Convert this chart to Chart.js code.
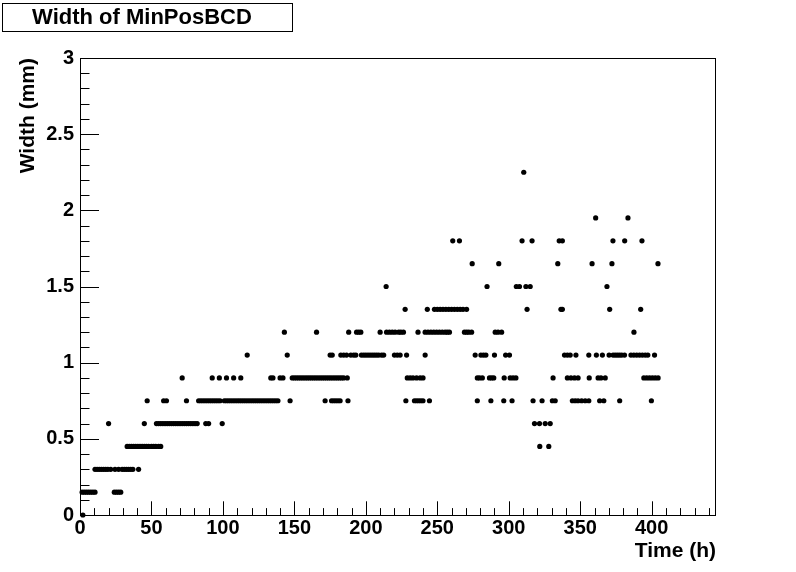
<!DOCTYPE html>
<html>
<head>
<meta charset="utf-8">
<script src="https://cdn.jsdelivr.net/npm/chart.js@4.4.1/dist/chart.umd.min.js"></script>
<style>
  html, body { margin: 0; padding: 0; background: #fff; }
  #wrap { width: 796px; height: 572px; }
</style>
</head>
<body>
<div id="wrap"><canvas id="chart" width="796" height="572"></canvas></div>
<script>
const w000 = [2];
const w015 = [1.5, 3, 4.5, 6, 7.5, 9, 10.5, 24, 25.5, 27, 28.5];
const w030 = [10.5, 12, 13.5, 15, 16.5, 18, 19.5, 21.5, 24.5, 27, 29.5, 31, 32.5, 34, 35.5, 37, 41];
const w045 = [33, 34.5, 36, 37.5, 39, 40.5, 42, 43.5, 45, 46.5, 48, 50, 51.5, 53, 55, 56.5,
  321.7, 328];
const w060 = [20, 45, 53.5, 55, 56.5, 58, 59.5, 61, 62.5, 64, 65.5, 67, 68.5, 70, 71.5, 73, 74.5,
  76, 77.5, 79, 80.5, 82, 88, 90, 99.5, 318, 321.5, 325.5, 329];
const w075 = [47, 58.5, 60.5, 74.5, 83, 84.5, 86, 87.5, 89, 90.5, 92, 93.5, 95, 96.5, 98, 101,
  102.5, 104, 105.5, 107, 108.5, 110, 111.5, 113, 114.5, 116, 117.5, 119, 120.5, 122, 123.5, 125,
  126.5, 128, 129.5, 131, 132.5, 134, 135.5, 137, 138.5, 147, 171.5, 176, 177.5, 179, 180.5, 182,
  187.5, 228, 234, 235.5, 237, 238.5, 240, 244.5, 278, 287.5, 296.5, 302.3, 317, 323.3, 330.5,
  332.5, 344.5, 346.5, 348.5, 351, 353.5, 356, 363.6, 366.5, 377.6, 399.8];
const w090 = [71.5, 92.5, 97.5, 102.5, 107.5, 112.5, 133.5, 135, 140, 142, 148.5, 150, 151.5, 153,
  154.5, 156, 157.5, 159, 160.5, 162, 163.5, 165, 166.5, 168, 169.5, 171, 172.5, 174, 175.5, 177,
  178.5, 180, 181.5, 183, 184.5, 187, 229, 231, 233, 235.5, 238, 240, 278, 279.5, 281.5, 286.5,
  288, 289.5, 296.8, 301, 303, 305, 331, 341, 343.5, 346, 348.5, 356.3, 362.5, 364.5, 367.5,
  394.5, 396.5, 398.5, 400.5, 402.5, 404.5];
const w105 = [117, 145, 175, 176.5, 182.5, 184.5, 186.5, 189.5, 191.5, 193, 196.9, 198.5, 200,
  201.5, 203, 204.5, 206, 207.5, 209, 211, 212.5, 220, 222, 224, 228.5, 241.5, 276.5, 280.5, 282.3,
  284, 290, 297.8, 300.5, 339, 341, 343, 347, 356, 361.3, 365.5, 370.2, 373, 374.5, 376, 377.5,
  379, 381, 385.5, 387.5, 389.5, 391.5, 393.5, 395.5, 397.3, 402];
const w120 = [143, 165.5, 188, 193.5, 195, 196.5, 210, 214.5, 216.5, 218.5, 220.5, 223, 224.5,
  226.3, 236.5, 241.5, 243.5, 245.5, 247.5, 249.5, 251.5, 253.5, 255.5, 257, 258.5, 269, 270.5,
  272, 274, 290.5, 292.5, 295, 387.6];
const w135 = [227.5, 243, 248, 250, 252, 254, 256, 258, 260, 262, 264, 266, 268, 270.5, 312.8,
  336.5, 337.5, 370.6, 392.3];
const w150 = [214.2, 284.8, 305.3, 307.5, 312, 315, 368.7];
const w165 = [274.4, 293, 334.3, 358.3, 372.2, 404.4];
const w180 = [260.8, 265.5, 309.3, 316.3, 335.3, 337.5, 372.9, 381.1, 393.2];
const w195 = [360.8, 383.4];
const w225 = [310.5];

const widthLevels = [0, 0.15, 0.3, 0.45, 0.6, 0.75, 0.9, 1.05, 1.2, 1.35, 1.5, 1.65, 1.8, 1.95, 2.25];
const timesByLevel = [w000, w015, w030, w045, w060, w075, w090, w105, w120, w135, w150, w165, w180, w195, w225];

const xTickLabels = ['0', '50', '100', '150', '200', '250', '300', '350', '400'];
const yTickLabels = ['0', '0.5', '1', '1.5', '2', '2.5', '3'];

const points = [];
widthLevels.forEach((w, i) => {
    timesByLevel[i].forEach(t => points.push({ x: t, y: w }));
});

const FONT = '"Liberation Sans", Arial, Helvetica, sans-serif';

// ROOT-like frame, ticks pointing inward, bold labels and the title box
const rootStyle = {
    id: 'rootStyle',
    beforeDatasetsDraw(chart) {
        const { ctx, chartArea: a, scales: { x, y } } = chart;
        ctx.save();
        ctx.strokeStyle = '#000';
        ctx.lineWidth = 1;
        ctx.strokeRect(a.left + 0.5, a.top + 0.5, a.right - a.left - 1, a.bottom - a.top);

        ctx.beginPath();
        for (let v = 0; v <= x.max; v += 10) {
            const px = Math.round(x.getPixelForValue(v)) + 0.5;
            const len = v % 50 === 0 ? 13.7 : 6.9;
            ctx.moveTo(px, a.bottom);
            ctx.lineTo(px, a.bottom - len);
        }
        for (let k = 0; k <= 30; k++) {
            const py = Math.round(y.getPixelForValue(k / 10)) + 0.5;
            const len = k % 5 === 0 ? 19 : 9.5;
            ctx.moveTo(a.left, py);
            ctx.lineTo(a.left + len, py);
        }
        ctx.stroke();
        ctx.restore();
    },
    afterDraw(chart) {
        const { ctx, chartArea: a, scales: { x, y } } = chart;
        ctx.save();
        ctx.fillStyle = '#000';

        ctx.font = 'bold 20px ' + FONT;
        ctx.textAlign = 'center';
        ctx.textBaseline = 'middle';
        xTickLabels.forEach(l => {
            ctx.fillText(l, x.getPixelForValue(Number(l)), a.bottom + 13);
        });
        ctx.textAlign = 'right';
        yTickLabels.forEach(l => {
            ctx.fillText(l, a.left - 6, y.getPixelForValue(Number(l)));
        });

        ctx.font = 'bold 21px ' + FONT;
        ctx.textAlign = 'right';
        ctx.fillText('Time (h)', a.right, a.bottom + 36);

        ctx.save();
        ctx.translate(28, a.top);
        ctx.rotate(-Math.PI / 2);
        ctx.textAlign = 'right';
        ctx.fillText('Width (mm)', 0, 0);
        ctx.restore();

        // title box
        ctx.fillStyle = '#fff';
        ctx.fillRect(2, 3, 290, 28);
        ctx.strokeStyle = '#000';
        ctx.lineWidth = 1;
        ctx.strokeRect(2.5, 3.5, 290, 28);
        ctx.fillStyle = '#000';
        ctx.font = 'bold 22px ' + FONT;
        ctx.textAlign = 'center';
        ctx.fillText('Width of MinPosBCD', 142, 18);
        ctx.restore();
    }
};

new Chart(document.getElementById('chart'), {
    type: 'scatter',
    data: {
        datasets: [{
            data: points,
            pointRadius: 2.6,
            pointHoverRadius: 2.6,
            pointBackgroundColor: '#000',
            pointBorderWidth: 0,
            clip: false
        }]
    },
    options: {
        responsive: false,
        animation: false,
        layout: { padding: { left: 80, top: 58, right: 80, bottom: 57 } },
        scales: {
            x: { type: 'linear', min: 0, max: 445, display: false },
            y: { type: 'linear', min: 0, max: 3, display: false }
        },
        plugins: {
            legend: { display: false },
            tooltip: { enabled: false }
        }
    },
    plugins: [rootStyle]
});
</script>
</body>
</html>
